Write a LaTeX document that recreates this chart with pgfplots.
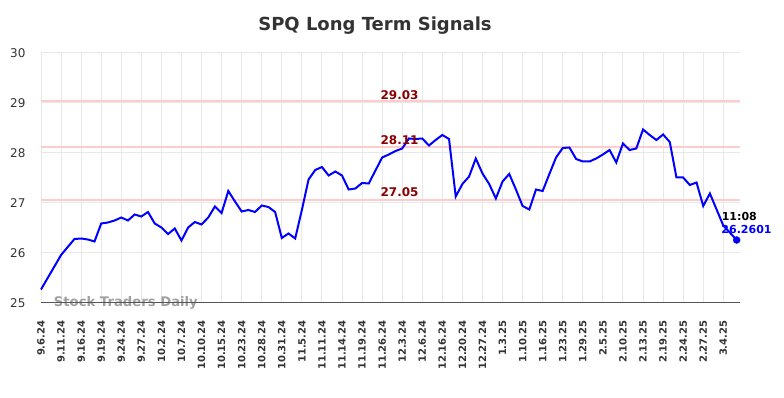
\documentclass[border=0pt]{standalone}
\usepackage{fontspec}
\setmainfont{DejaVu Sans}
\usepackage{pgfplots}
\pgfplotsset{compat=1.18}
\definecolor{gridc}{HTML}{E8E8E8}
\definecolor{levelc}{HTML}{FFCCCC}
\definecolor{levtext}{HTML}{8B0000}
\definecolor{txt}{HTML}{333333}
\definecolor{axc}{HTML}{555555}
\definecolor{wm}{HTML}{A0A0A0}
\begin{document}
\begin{tikzpicture}[x=1pt,y=1pt]
\useasboundingbox (0,0) rectangle (784,398);
\node[font=\bfseries\fontsize{18}{20}\selectfont, text=txt] at (375,372) {SPQ Long Term Signals};
\begin{axis}[
  at={(41pt,95pt)}, anchor=south west,
  scale only axis, width=699pt, height=250pt,
  xmin=0, xmax=104.5, ymin=25, ymax=30,
  xtick={0,3,...,102},
  xticklabels={9.6.24,9.11.24,9.16.24,9.19.24,9.24.24,9.27.24,10.2.24,10.7.24,10.10.24,10.15.24,10.23.24,10.28.24,10.31.24,11.5.24,11.11.24,11.14.24,11.19.24,11.26.24,12.3.24,12.6.24,12.16.24,12.20.24,12.27.24,1.3.25,1.10.25,1.16.25,1.23.25,1.29.25,2.5.25,2.10.25,2.13.25,2.19.25,2.24.25,2.27.25,3.4.25},
  ytick={25,26,27,28,29,30},
  grid=major, major grid style={draw=gridc, line width=1pt},
  axis line style={draw=none},
  major tick length=0pt,
  /pgf/number format/assume math mode=true,
  xticklabel style={rotate=90, anchor=east, font=\bfseries\fontsize{10}{11}\selectfont, text=txt},
  xticklabel shift=14pt,
  yticklabel style={font=\fontsize{12}{14}\selectfont, text=txt},
  yticklabel shift=12pt,
  clip=false,
]
\addplot[levelc, line width=2pt] coordinates {(0,29.03) (104.5,29.03)};
\addplot[levelc, line width=2pt] coordinates {(0,28.11) (104.5,28.11)};
\addplot[levelc, line width=2pt] coordinates {(0,27.05) (104.5,27.05)};
\node[anchor=base west, font=\bfseries\fontsize{13.2}{15}\selectfont, text=wm] at (axis cs:1.4,25) [yshift=-3.3pt] {Stock Traders Daily};
\draw[axc, line width=1pt] (axis cs:0,25) -- (axis cs:104.5,25);
\addplot[blue, line width=2pt] coordinates {
(0,25.27) (1,25.50) (2,25.73) (3,25.96) (4,26.12) (5,26.28) (6,26.29) (7,26.27) (8,26.23) (9,26.59)
(10,26.61) (11,26.65) (12,26.71) (13,26.65) (14,26.77) (15,26.73) (16,26.82) (17,26.59) (18,26.51) (19,26.38)
(20,26.49) (21,26.25) (22,26.51) (23,26.62) (24,26.57) (25,26.71) (26,26.93) (27,26.80) (28,27.24) (29,27.03)
(30,26.83) (31,26.86) (32,26.82) (33,26.95) (34,26.92) (35,26.82) (36,26.30) (37,26.39) (38,26.29) (39,26.86)
(40,27.47) (41,27.66) (42,27.72) (43,27.55) (44,27.63) (45,27.55) (46,27.27) (47,27.29) (48,27.40) (49,27.39)
(50,27.65) (51,27.91) (52,27.97) (53,28.04) (54,28.09) (55,28.29) (56,28.28) (57,28.29) (58,28.15) (59,28.26)
(60,28.36) (61,28.28) (62,27.13) (63,27.38) (64,27.53) (65,27.89) (66,27.59) (67,27.38) (68,27.09) (69,27.43)
(70,27.58) (71,27.27) (72,26.94) (73,26.87) (74,27.27) (75,27.24) (76,27.58) (77,27.91) (78,28.10) (79,28.11)
(80,27.88) (81,27.83) (82,27.83) (83,27.89) (84,27.97) (85,28.06) (86,27.81) (87,28.19) (88,28.06) (89,28.09)
(90,28.47) (91,28.36) (92,28.26) (93,28.37) (94,28.22) (95,27.51) (96,27.51) (97,27.36) (98,27.41) (99,26.94)
(100,27.19) (101,26.87) (102,26.55) (104,26.2601)
};
\addplot[only marks, mark=*, mark size=3.5pt, blue] coordinates {(104,26.2601)};
\node[anchor=base, font=\bfseries\fontsize{12}{14}\selectfont, text=levtext] at (axis cs:53.6,29.03) [yshift=2.2pt] {29.03};
\node[anchor=base, font=\bfseries\fontsize{12}{14}\selectfont, text=levtext] at (axis cs:53.6,28.11) [yshift=3.2pt] {28.11};
\node[anchor=base, font=\bfseries\fontsize{12}{14}\selectfont, text=levtext] at (axis cs:53.6,27.05) [yshift=3.5pt] {27.05};
\node[anchor=base west, inner sep=0pt, font=\bfseries\fontsize{11}{12}\selectfont, text=black] at (axis cs:101.75,26.646) {11:08};
\node[anchor=base west, inner sep=0pt, font=\bfseries\fontsize{11}{12}\selectfont, text=blue] at (axis cs:101.7,26.38) {26.2601};
\end{axis}
\end{tikzpicture}
\end{document}
